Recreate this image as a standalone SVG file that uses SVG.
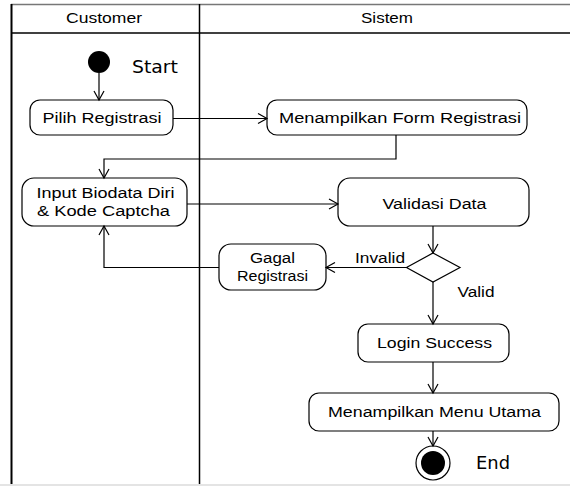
<svg xmlns="http://www.w3.org/2000/svg" width="570" height="486" viewBox="0 0 570 486">
<defs>
<marker id="arr" markerWidth="12" markerHeight="12" refX="10" refY="6" orient="auto" markerUnits="userSpaceOnUse">
<path d="M1,1 L10,6 L1,11" fill="none" stroke="#000" stroke-width="1.2"/>
</marker>
<style>
.box{fill:#fff;stroke:#000;stroke-width:1.2}
.t{font-family:"Liberation Sans",Arial,sans-serif;font-size:14px;fill:#000;text-anchor:middle}
.lbl{font-family:"Liberation Sans",Arial,sans-serif;font-size:14px;fill:#000}
.big{font-family:"DejaVu Sans",Verdana,sans-serif;font-size:17px;fill:#000}
.c{fill:none;stroke:#000;stroke-width:1.2}
</style>
</defs>
<rect width="570" height="486" fill="#fff"/>
<g id="frame">
<line x1="11" y1="4.5" x2="570" y2="4.5" stroke="#777" stroke-width="1.5"/>
<line x1="11" y1="33" x2="570" y2="33" stroke="#000" stroke-width="1.5"/>
<line x1="11.5" y1="4" x2="11.5" y2="486" stroke="#000" stroke-width="2"/>
<line x1="199.5" y1="4" x2="199.5" y2="486" stroke="#000" stroke-width="1.5"/>
<rect x="0" y="484" width="570" height="2" fill="#e4e4e4"/>
<text class="t" x="104" y="23" textLength="76" lengthAdjust="spacingAndGlyphs">Customer</text>
<text class="t" x="387" y="23" textLength="52" lengthAdjust="spacingAndGlyphs">Sistem</text>
</g>
<g id="start">
<circle cx="99" cy="62" r="11" fill="#000"/>
<text class="big" x="132" y="73" textLength="46" lengthAdjust="spacingAndGlyphs">Start</text>
</g>
<g id="pilih">
<rect class="box" x="30" y="100" width="143" height="35" rx="10"/>
<text class="t" x="102" y="123" textLength="119" lengthAdjust="spacingAndGlyphs">Pilih Registrasi</text>
</g>
<g id="formreg">
<rect class="box" x="267" y="100" width="260" height="35" rx="10"/>
<text class="t" x="400" y="123" textLength="242" lengthAdjust="spacingAndGlyphs">Menampilkan Form Registrasi</text>
</g>
<g id="input">
<rect class="box" x="22" y="178" width="165" height="48" rx="12"/>
<text class="t" x="105.5" y="198" textLength="138" lengthAdjust="spacingAndGlyphs">Input Biodata Diri</text>
<text class="t" x="103.5" y="216" textLength="133" lengthAdjust="spacingAndGlyphs">&amp; Kode Captcha</text>
</g>
<g id="validasi">
<rect class="box" x="338" y="178" width="191" height="48" rx="12"/>
<text class="t" x="434.5" y="209" textLength="104" lengthAdjust="spacingAndGlyphs">Validasi Data</text>
</g>
<g id="decision">
<polygon class="box" points="433,253 460,267.5 433,282 406.5,267.5"/>
</g>
<g id="gagal">
<rect class="box" x="219" y="244" width="107" height="46" rx="12"/>
<text class="t" x="272.5" y="263" textLength="45" lengthAdjust="spacingAndGlyphs">Gagal</text>
<text class="t" x="272.5" y="281" textLength="71" lengthAdjust="spacingAndGlyphs">Registrasi</text>
</g>
<g id="login">
<rect class="box" x="358" y="324" width="151" height="38" rx="10"/>
<text class="t" x="434.5" y="348" textLength="115" lengthAdjust="spacingAndGlyphs">Login Success</text>
</g>
<g id="menu">
<rect class="box" x="309" y="393" width="250" height="38" rx="10"/>
<text class="t" x="434.5" y="417" textLength="213" lengthAdjust="spacingAndGlyphs">Menampilkan Menu Utama</text>
</g>
<g id="end">
<circle cx="433" cy="463" r="17" fill="#fff" stroke="#000" stroke-width="1.2"/>
<circle cx="433" cy="463" r="12" fill="#000"/>
<text class="big" x="476" y="469" textLength="34" lengthAdjust="spacingAndGlyphs">End</text>
</g>
<g id="connectors">
<line class="c" x1="99" y1="73" x2="99" y2="100" marker-end="url(#arr)"/>
<line class="c" x1="173" y1="118.5" x2="267" y2="118.5" marker-end="url(#arr)"/>
<polyline class="c" points="396,135 396,159 104,159 104,178" marker-end="url(#arr)"/>
<line class="c" x1="187" y1="204" x2="338" y2="204" marker-end="url(#arr)"/>
<line class="c" x1="433" y1="226" x2="433" y2="253" marker-end="url(#arr)"/>
<line class="c" x1="406.5" y1="267.5" x2="326" y2="267.5" marker-end="url(#arr)"/>
<polyline class="c" points="219,267.5 104,267.5 104,226" marker-end="url(#arr)"/>
<line class="c" x1="433" y1="282" x2="433" y2="324" marker-end="url(#arr)"/>
<line class="c" x1="433" y1="362" x2="433" y2="393" marker-end="url(#arr)"/>
<line class="c" x1="433" y1="431" x2="433" y2="446" marker-end="url(#arr)"/>
<text class="lbl" x="355" y="263" textLength="50" lengthAdjust="spacingAndGlyphs">Invalid</text>
<text class="lbl" x="457.5" y="297" textLength="37" lengthAdjust="spacingAndGlyphs">Valid</text>
</g>
</svg>
